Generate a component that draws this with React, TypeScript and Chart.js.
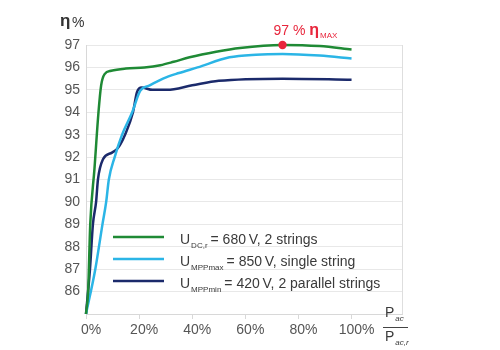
import React, { useEffect, useRef } from 'react';
import { Chart, registerables } from 'chart.js';
Chart.register(...registerables);

const FONT = '"Liberation Sans", Arial, Helvetica, sans-serif';

const xTickValues = [0, 20, 40, 60, 80, 100];
const yMin = 85;
const yMax = 97;

const seriesLabels = [
  { main: 'U', sub: 'DC,r', rest: '= 680\u2009V, 2 strings' },
  { main: 'U', sub: 'MPPmax', rest: '= 850\u2009V, single string' },
  { main: 'U', sub: 'MPPmin', rest: '= 420\u2009V, 2 parallel strings' },
];
const seriesColors = ['#1f8a35', '#2bb5e6', '#1b2a6b'];

const greenLoad = [0, 0.8, 1.6, 3.2, 4.7, 5.7, 7, 9.5, 15, 22, 28, 33, 39, 49, 58, 74, 88, 100];
const greenEff = [85, 86, 89, 91.5, 94, 95.2, 95.7, 95.85, 95.95, 96.0, 96.1, 96.25, 96.45, 96.7, 96.87, 97.0, 96.95, 96.8];

const cyanLoad = [0, 3.5, 6.2, 7.6, 8.6, 10.8, 13.6, 17.4, 20.4, 24, 29, 35, 42, 54, 64, 74, 88, 100];
const cyanEff = [85, 87, 89, 90, 91, 92, 93, 94, 94.95, 95.2, 95.5, 95.75, 96.0, 96.45, 96.57, 96.6, 96.53, 96.4];

const navyLoad = [0, 1.5, 2.6, 3.8, 4.5, 6.4, 9.8, 12, 14.7, 17.7, 19.2, 21, 25, 30.5, 40, 50, 74, 100];
const navyEff = [85, 87, 89, 90, 91, 91.9, 92.2, 92.4, 93, 94, 94.9, 95.1, 95.0, 95.0, 95.2, 95.4, 95.5, 95.45];

const maxPointLoad = [74];
const maxPointEff = [97];

const toPts = (xs: number[], ys: number[]) => xs.map((x, i) => ({ x, y: ys[i] }));

function drawSub(ctx: CanvasRenderingContext2D, x: number, y: number, main: string, mainFont: string, sub: string, subFont: string, subDy: number) {
  ctx.font = mainFont;
  ctx.fillText(main, x, y);
  const w = ctx.measureText(main).width;
  ctx.font = subFont;
  ctx.fillText(sub, x + w + 1, y + subDy);
  return x + w + 1 + ctx.measureText(sub).width;
}

const decorPlugin = {
  id: 'decor',
  afterDraw(chart: any) {
    const { ctx, chartArea, scales } = chart;
    const { left, right, top, bottom } = chartArea;
    ctx.save();
    // right border
    ctx.strokeStyle = '#dedede';
    ctx.lineWidth = 1;
    ctx.beginPath();
    ctx.moveTo(Math.round(right) + 0.5, top);
    ctx.lineTo(Math.round(right) + 0.5, bottom);
    ctx.stroke();

    // eta % label
    ctx.fillStyle = '#333';
    ctx.textBaseline = 'alphabetic';
    ctx.textAlign = 'left';
    ctx.font = `bold 17px ${FONT}`;
    ctx.fillText('η', left - 26, top - 19);
    ctx.font = `14px ${FONT}`;
    ctx.fillText('%', left - 14, top - 18);

    // max annotation
    const px = scales.x.getPixelForValue(maxPointLoad[0]);
    const py = scales.y.getPixelForValue(maxPointEff[0]);
    ctx.fillStyle = '#e8263c';
    ctx.font = `14px ${FONT}`;
    ctx.fillText('97 %', px - 9, py - 10);
    const w97 = ctx.measureText('97 % ').width;
    drawSub(ctx, px - 9 + w97, py - 10, 'η', `bold 16px ${FONT}`, 'MAX', `8px ${FONT}`, 3);

    // legend
    const rowY = [237, 259, 281];
    seriesLabels.forEach((s, i) => {
      const y = rowY[i];
      ctx.strokeStyle = seriesColors[i];
      ctx.lineWidth = 2.5;
      ctx.beginPath();
      ctx.moveTo(left + 27, y);
      ctx.lineTo(left + 78, y);
      ctx.stroke();
      ctx.fillStyle = '#3a3a3a';
      const endX = drawSub(ctx, left + 94, y + 7, s.main, `14px ${FONT}`, s.sub, `8px ${FONT}`, 4);
      ctx.font = `14px ${FONT}`;
      ctx.fillText(s.rest, endX + 3, y + 7);
    });

    // P_ac / P_ac,r
    const fx = right - 17;
    ctx.fillStyle = '#3a3a3a';
    drawSub(ctx, fx, bottom + 3, 'P', `14px ${FONT}`, 'ac', `italic 8px ${FONT}`, 4);
    ctx.strokeStyle = '#444';
    ctx.lineWidth = 1;
    ctx.beginPath();
    ctx.moveTo(fx - 2, bottom + 13.5);
    ctx.lineTo(fx + 23, bottom + 13.5);
    ctx.stroke();
    drawSub(ctx, fx, bottom + 27, 'P', `14px ${FONT}`, 'ac,r', `italic 8px ${FONT}`, 4);
    ctx.restore();
  },
};

export default function App() {
  const ref = useRef<HTMLCanvasElement | null>(null);
  useEffect(() => {
    if (!ref.current) return;
    const chart = new Chart(ref.current, {
      type: 'scatter',
      data: {
        datasets: [
          { label: 'green', data: toPts(greenLoad, greenEff), showLine: true, borderColor: seriesColors[0], borderWidth: 2.5, pointRadius: 0, cubicInterpolationMode: 'monotone', order: 1 },
          { label: 'cyan', data: toPts(cyanLoad, cyanEff), showLine: true, borderColor: seriesColors[1], borderWidth: 2.5, pointRadius: 0, cubicInterpolationMode: 'monotone', order: 2 },
          { label: 'navy', data: toPts(navyLoad, navyEff), showLine: true, borderColor: seriesColors[2], borderWidth: 2.5, pointRadius: 0, cubicInterpolationMode: 'monotone', order: 3 },
          { label: 'max', data: toPts(maxPointLoad, maxPointEff), showLine: false, pointRadius: 4.2, borderWidth: 0, backgroundColor: '#e8263c', borderColor: '#e8263c', pointHoverRadius: 4.2, order: 0 },
        ] as any,
      },
      options: {
        responsive: false,
        animation: false,
        clip: false as any,
        layout: { padding: { top: 45, right: 98, left: 0, bottom: 0 } },
        plugins: { legend: { display: false }, tooltip: { enabled: false } },
        scales: {
          x: {
            type: 'linear',
            min: 0,
            max: 119,
            afterFit: (s: any) => { s.height = 36; },
            afterBuildTicks: (s: any) => { s.ticks = xTickValues.map((v) => ({ value: v })); },
            border: { color: '#d8d8d8' },
            grid: { drawOnChartArea: false, drawTicks: true, tickLength: 5, color: '#d8d8d8' },
            ticks: {
              callback: (v: any) => `${v}%`,
              color: '#555',
              font: { size: 14, family: FONT },
              padding: 3,
              maxRotation: 0,
              autoSkip: false,
              labelOffset: 5,
            },
          },
          y: {
            type: 'linear',
            min: yMin,
            max: yMax,
            afterFit: (s: any) => { s.width = 86; },
            border: { color: '#d8d8d8' },
            grid: { drawTicks: false, color: '#e8e8e8' },
            ticks: {
              stepSize: 1,
              callback: (v: any) => (v === yMin ? '' : `${v}`),
              color: '#555',
              font: { size: 14, family: FONT },
              padding: 6,
            },
          },
        },
      },
      plugins: [decorPlugin],
    });
    return () => chart.destroy();
  }, []);
  return (
    <div style={{ position: 'fixed', left: 0, top: 0, width: 500, height: 350, background: '#fff' }}>
      <canvas ref={ref} width={500} height={350} style={{ width: 500, height: 350 }} />
    </div>
  );
}
